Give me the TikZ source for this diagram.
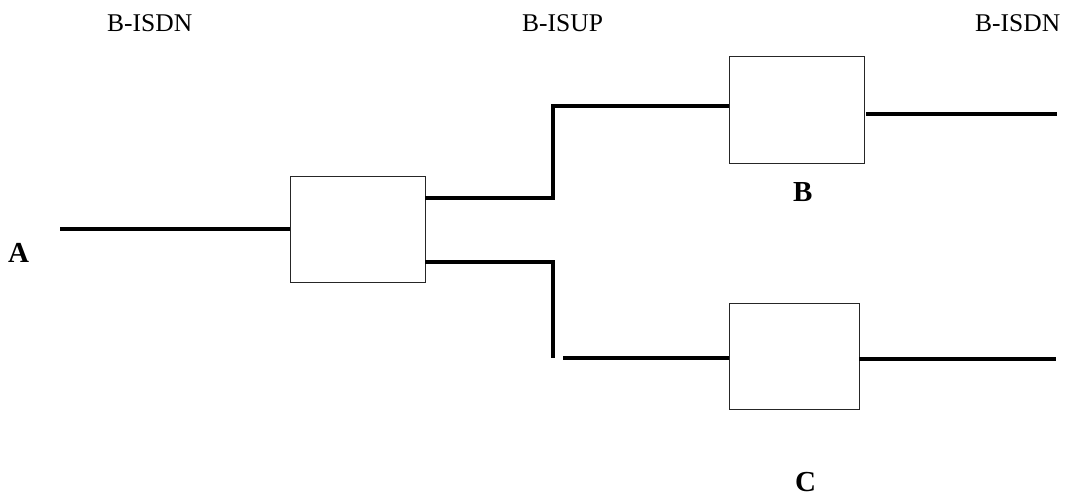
\documentclass[tikz,border=0pt]{standalone}
\usepackage{fontspec}
\setmainfont{Liberation Serif}
\begin{document}
\begin{tikzpicture}[x=1pt,y=-1pt,
  box/.style={rectangle, draw=black!85, line width=1pt, fill=white, inner sep=0pt, outer sep=0pt},
  wire/.style={line width=3.3pt, line join=miter},
  lbl/.style={font=\fontsize{25.5}{30}\selectfont, anchor=base west, inner sep=0pt},
  blbl/.style={font=\fontsize{29}{34}\selectfont\bfseries, anchor=base west, inner sep=0pt}]
\useasboundingbox (0,0) rectangle (1066,497);

% switches
\node[box, minimum width=135pt, minimum height=106pt] (s1) at (357.5,230) {};
\node[box, minimum width=135pt, minimum height=107pt] (sb) at (796.5,110.5) {};
\node[box, minimum width=130pt, minimum height=106pt] (sc) at (794,356) {};

% connector points
\coordinate (a) at (60,229);
\coordinate (u1) at (553,198);
\coordinate (u2) at (553,106);
\coordinate (l1) at (553,262);
\coordinate (l2) at (553,358);
\coordinate (l3) at (563,358);
\coordinate (bend) at (1057,114);
\coordinate (cend) at (1056,359);

\draw[wire] (a) -- (s1.west |- a);
\draw[wire] (s1.east |- u1) -- (u1) -- (u2) -- (sb.west |- u2);
\draw[wire] (s1.east |- l1) -- (l1) -- (l2);
\draw[wire] (l3) -- (sc.west |- l3);
\draw[wire] ([xshift=2pt]sb.east |- bend) -- (bend);
\draw[wire] (sc.east |- cend) -- (cend);

% labels
\node[lbl] (t1) at (107,32) {B-ISDN};
\node[lbl] (t2) at (522,32) {B-ISUP};
\node[lbl] (t3) at (975,32) {B-ISDN};
\node[blbl] (la) at (8,263) {A};
\node[blbl] (lb) at (793,202) {B};
\node[blbl] (lc) at (795,491.5) {C};
\end{tikzpicture}
\end{document}
